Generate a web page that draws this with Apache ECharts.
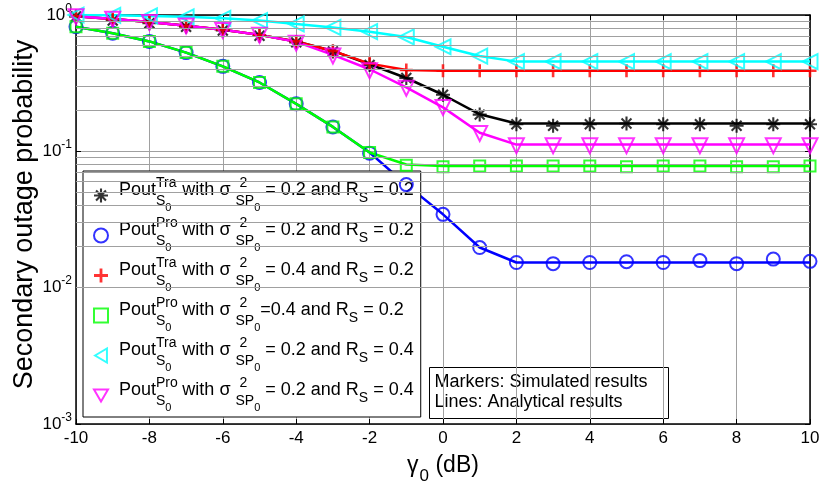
<!DOCTYPE html>
<html><head><meta charset="utf-8">
<script src="https://cdn.jsdelivr.net/npm/echarts@6/dist/echarts.min.js"></script>
<style>html,body{margin:0;padding:0;background:#fff}#c{width:819px;height:486px}</style>
</head><body><div id="c"></div>
<script>
const FONT = '"Liberation Sans", Arial, Helvetica, sans-serif';

// x axis: gamma_0 (dB)
const gammaDb = [-10,-9,-8,-7,-6,-5,-4,-3,-2,-1,0,1,2,3,4,5,6,7,8,9,10];

// Analytical results (lines)
const traS02R02Line = [0.98,0.935,0.89,0.835,0.78,0.715,0.64,0.545,0.435,0.345,0.26,0.187,0.16,0.16,0.16,0.16,0.16,0.16,0.16,0.16,0.16];
const proS02R02Line = [0.82,0.735,0.64,0.53,0.42,0.32,0.223,0.151,0.098,0.057,0.0345,0.0197,0.0153,0.0153,0.0153,0.0153,0.0153,0.0153,0.0153,0.0153,0.0153];
const traS04R02Line = [0.98,0.935,0.89,0.835,0.78,0.715,0.64,0.545,0.44,0.395,0.39,0.39,0.39,0.39,0.39,0.39,0.39,0.39,0.39,0.39,0.39];
const proS04R02Line = [0.82,0.735,0.64,0.53,0.42,0.32,0.223,0.151,0.098,0.08,0.078,0.078,0.078,0.078,0.078,0.078,0.078,0.078,0.078,0.078,0.078];
const traS02R04Line = [1.0,0.995,0.985,0.97,0.945,0.91,0.86,0.81,0.755,0.69,0.585,0.50,0.455,0.455,0.455,0.455,0.455,0.455,0.455,0.455,0.455];
const proS02R04Line = [0.98,0.935,0.89,0.835,0.78,0.715,0.635,0.51,0.40,0.295,0.21,0.137,0.112,0.112,0.112,0.112,0.112,0.112,0.112,0.112,0.112];

// Simulated results (markers)
const traS02R02Sim = [0.975,0.91,0.87,0.82,0.77,0.705,0.63,0.54,0.43,0.345,0.26,0.186,0.158,0.154,0.158,0.16,0.158,0.158,0.154,0.158,0.158];
const proS02R02Sim = [0.82,0.735,0.64,0.53,0.42,0.32,0.223,0.151,0.097,0.057,0.0345,0.0197,0.0153,0.0150,0.0153,0.0155,0.0153,0.0158,0.0150,0.0162,0.0156];
const traS04R02Sim = [0.98,0.93,0.89,0.83,0.78,0.71,0.64,0.545,0.44,0.395,0.39,0.39,0.39,0.39,0.39,0.39,0.39,0.39,0.39,0.39,0.39];
const proS04R02Sim = [0.82,0.735,0.64,0.53,0.42,0.32,0.223,0.151,0.098,0.079,0.077,0.078,0.078,0.078,0.078,0.077,0.078,0.078,0.077,0.077,0.078];
const traS02R04Sim = [1.0,0.995,0.985,0.97,0.945,0.91,0.86,0.81,0.755,0.69,0.585,0.50,0.455,0.455,0.455,0.455,0.455,0.455,0.455,0.455,0.455];
const proS02R04Sim = [0.97,0.93,0.88,0.83,0.77,0.71,0.62,0.50,0.39,0.29,0.21,0.135,0.11,0.11,0.11,0.11,0.11,0.11,0.11,0.11,0.11];

// Legend entries
const seriesKeys = ['traS02R02','proS02R02','traS04R02','proS04R02','traS02R04','proS02R04'];
const legendKind = ['Tra','Pro','Tra','Pro','Tra','Pro'];
const legendSigma = [' = 0.2',' = 0.2',' = 0.4','=0.4',' = 0.2',' = 0.2'];
const legendRs = ['0.2','0.2','0.2','0.2','0.4','0.4'];
const colors = ['#000000','#0000ff','#ff0000','#00ff00','#00ffff','#ff00ff'];

const xTickInterval = 2;
const yMin = 0.001, yMax = 1;

const lineSets = [traS02R02Line, proS02R02Line, traS04R02Line, proS04R02Line, traS02R04Line, proS02R04Line];
const simSets = [traS02R02Sim, proS02R02Sim, traS04R02Sim, proS04R02Sim, traS02R04Sim, proS02R04Sim];

const STAR = 'path://M0,8.5L20,8.5L20,11.5L0,11.5Z M8.5,0L11.5,0L11.5,20L8.5,20Z M3.99,1.87L18.13,16.01L16.01,18.13L1.87,3.99Z M18.13,3.99L3.99,18.13L1.87,16.01L16.01,1.87Z';
const PLUS = 'path://M8,0L12,0L12,8L20,8L20,12L12,12L12,20L8,20L8,12L0,12L0,8L8,8Z';
const TRI_LEFT = 'path://M0,10L17,0L17,20Z';
const TRI_DOWN = 'path://M0,0L20,0L10,17Z';
const markerDefs = [
  {symbol: STAR, size: 14, filled: true},
  {symbol: 'circle', size: 13, filled: false},
  {symbol: PLUS, size: 13, filled: true},
  {symbol: 'rect', size: 11, filled: false},
  {symbol: TRI_LEFT, size: 15, filled: false},
  {symbol: TRI_DOWN, size: 15, filled: false}
];

// minor grid values (2..9 x 10^k)
const minorGrid = [];
for (let k = -3; k < 0; k++) for (let m = 2; m <= 9; m++) minorGrid.push(+(m * Math.pow(10, k)).toPrecision(3));

const series = [];
seriesKeys.forEach((key, i) => {
  series.push({
    name: key + 'Line', type: 'line', xAxisIndex: 0, yAxisIndex: 0,
    data: gammaDb.map((x, j) => [x, lineSets[i][j]]),
    showSymbol: false, symbol: 'none',
    lineStyle: {color: colors[i], width: 2.5},
    itemStyle: {color: colors[i]},
    silent: true, z: 3,
    markLine: i === 0 ? {
      silent: true, symbol: 'none', label: {show: false}, animation: false,
      lineStyle: {color: '#a0a0a0', width: 1, type: 'solid'},
      data: minorGrid.map(v => ({yAxis: v}))
    } : undefined
  });
});
seriesKeys.forEach((key, i) => {
  const md = markerDefs[i];
  series.push({
    name: key, type: 'scatter', xAxisIndex: 0, yAxisIndex: 0,
    data: gammaDb.map((x, j) => [x, simSets[i][j]]),
    symbol: md.symbol, symbolSize: md.size, clip: false,
    itemStyle: md.filled ? {color: colors[i], borderWidth: 0}
                         : {color: 'rgba(0,0,0,0)', borderColor: colors[i], borderWidth: 2},
    silent: true, z: 4
  });
});

function legendText(i) {
  return '{m0|Pout}{sp|' + legendKind[i] + '}{sb|S}{ss|0}{m| with σ }{sp2| 2}{sb|SP}{ssn|0}{m|' +
    legendSigma[i] + ' and R}{rs|S}{m| = ' + legendRs[i] + '}';
}

const legendRich = {
  m0: {fontFamily: FONT, fontSize: 18, lineHeight: 18, padding: [0, 0, 10, 6], color: '#000'},
  m: {fontFamily: FONT, fontSize: 18, lineHeight: 18, padding: [0, 0, 10, 0], color: '#000'},
  sp: {fontFamily: FONT, fontSize: 14, lineHeight: 12, width: 0, padding: [0, 0, 25, 0], color: '#000'},
  sb: {fontFamily: FONT, fontSize: 14, lineHeight: 13, padding: [12, 0, 0, 0], color: '#000'},
  ss: {fontFamily: FONT, fontSize: 11, lineHeight: 11, width: 12, padding: [25, 0, 0, 0], color: '#000'},
  sp2: {fontFamily: FONT, fontSize: 14, lineHeight: 12, width: 0, padding: [0, 0, 25, 0], color: '#000'},
  ssn: {fontFamily: FONT, fontSize: 11, lineHeight: 11, padding: [25, 0, 0, 0], color: '#000'},
  rs: {fontFamily: FONT, fontSize: 14, lineHeight: 13, padding: [6, 0, 0, 0], color: '#000'}
};

const chart = echarts.init(document.getElementById('c'), null, {renderer: 'canvas'});
chart.setOption({
  animation: false,
  backgroundColor: '#ffffff',
  textStyle: {fontFamily: FONT},
  grid: {left: 76, right: 9, top: 15, bottom: 62, containLabel: false, outerBoundsMode: 'none'},
  xAxis: [{
    type: 'value', min: -10, max: 10, interval: xTickInterval, position: 'bottom',
    name: '{g|γ}{s|0}{g| (dB)}', nameLocation: 'middle', nameGap: 29, nameMoveOverlap: false,
    nameTextStyle: {rich: {
      g: {fontFamily: FONT, fontSize: 23, lineHeight: 26, color: '#000'},
      s: {fontFamily: FONT, fontSize: 17, lineHeight: 17, padding: [21, 0, 0, 1], color: '#000'}
    }},
    axisLine: {show: true, onZero: false, lineStyle: {color: '#000', width: 1.5}},
    axisTick: {show: true, inside: true, length: 5, lineStyle: {color: '#000', width: 1}},
    axisLabel: {color: '#000', fontFamily: FONT, fontSize: 17, margin: 6},
    splitLine: {show: true, lineStyle: {color: '#a0a0a0', width: 1}}
  }, {
    type: 'value', min: -10, max: 10, interval: xTickInterval, position: 'top',
    axisLine: {show: true, onZero: false, lineStyle: {color: '#000', width: 1.5}},
    axisTick: {show: true, inside: true, length: 5, lineStyle: {color: '#000', width: 1}},
    axisLabel: {show: false}, splitLine: {show: false}
  }],
  yAxis: [{
    type: 'log', logBase: 10, min: yMin, max: yMax, position: 'left',
    name: 'Secondary outage probability', nameLocation: 'middle', nameGap: 38, nameRotate: 90,
    nameMoveOverlap: false,
    nameTextStyle: {color: '#000', fontFamily: FONT, fontSize: 27, padding: [0, 0, 0, 10]},
    axisLine: {show: true, onZero: false, lineStyle: {color: '#000', width: 1.5}},
    axisTick: {show: true, inside: true, length: 5, lineStyle: {color: '#000', width: 1}},
    axisLabel: {
      margin: 4,
      formatter: v => '{b|10}{e|' + Math.round(Math.log10(v)) + '}',
      rich: {
        b: {fontFamily: FONT, fontSize: 17, lineHeight: 17, color: '#000'},
        e: {fontFamily: FONT, fontSize: 12, lineHeight: 12, padding: [0, 0, 13, 0], color: '#000'}
      }
    },
    splitLine: {show: true, lineStyle: {color: '#a0a0a0', width: 1}}
  }, {
    type: 'log', logBase: 10, min: yMin, max: yMax, position: 'right',
    axisLine: {show: true, onZero: false, lineStyle: {color: '#000', width: 1.5}},
    axisTick: {show: true, inside: true, length: 5, lineStyle: {color: '#000', width: 1}},
    axisLabel: {show: false}, splitLine: {show: false}
  }],
  legend: {
    show: true, orient: 'vertical', left: 83, top: 171,
    data: seriesKeys,
    selectedMode: false,
    itemWidth: 14, itemHeight: 14, itemGap: 1,
    padding: [5, 7, 2, 10],
    backgroundColor: '#ffffff', borderColor: '#000', borderWidth: 1, borderRadius: 0,
    formatter: name => legendText(seriesKeys.indexOf(name)),
    textStyle: {color: '#000', fontFamily: FONT, rich: legendRich}
  },
  graphic: [{
    type: 'group', left: 429, top: 367, z: 20,
    children: [
      {type: 'rect', shape: {x: 0, y: 0, width: 239, height: 51}, style: {fill: '#fff', stroke: '#000', lineWidth: 1}},
      {type: 'text', x: 5, y: 5, style: {text: 'Markers: Simulated results\nLines: Analytical results', font: '18px ' + FONT, lineHeight: 20, fill: '#000'}}
    ]
  }],
  series: series
});
</script></body></html>
